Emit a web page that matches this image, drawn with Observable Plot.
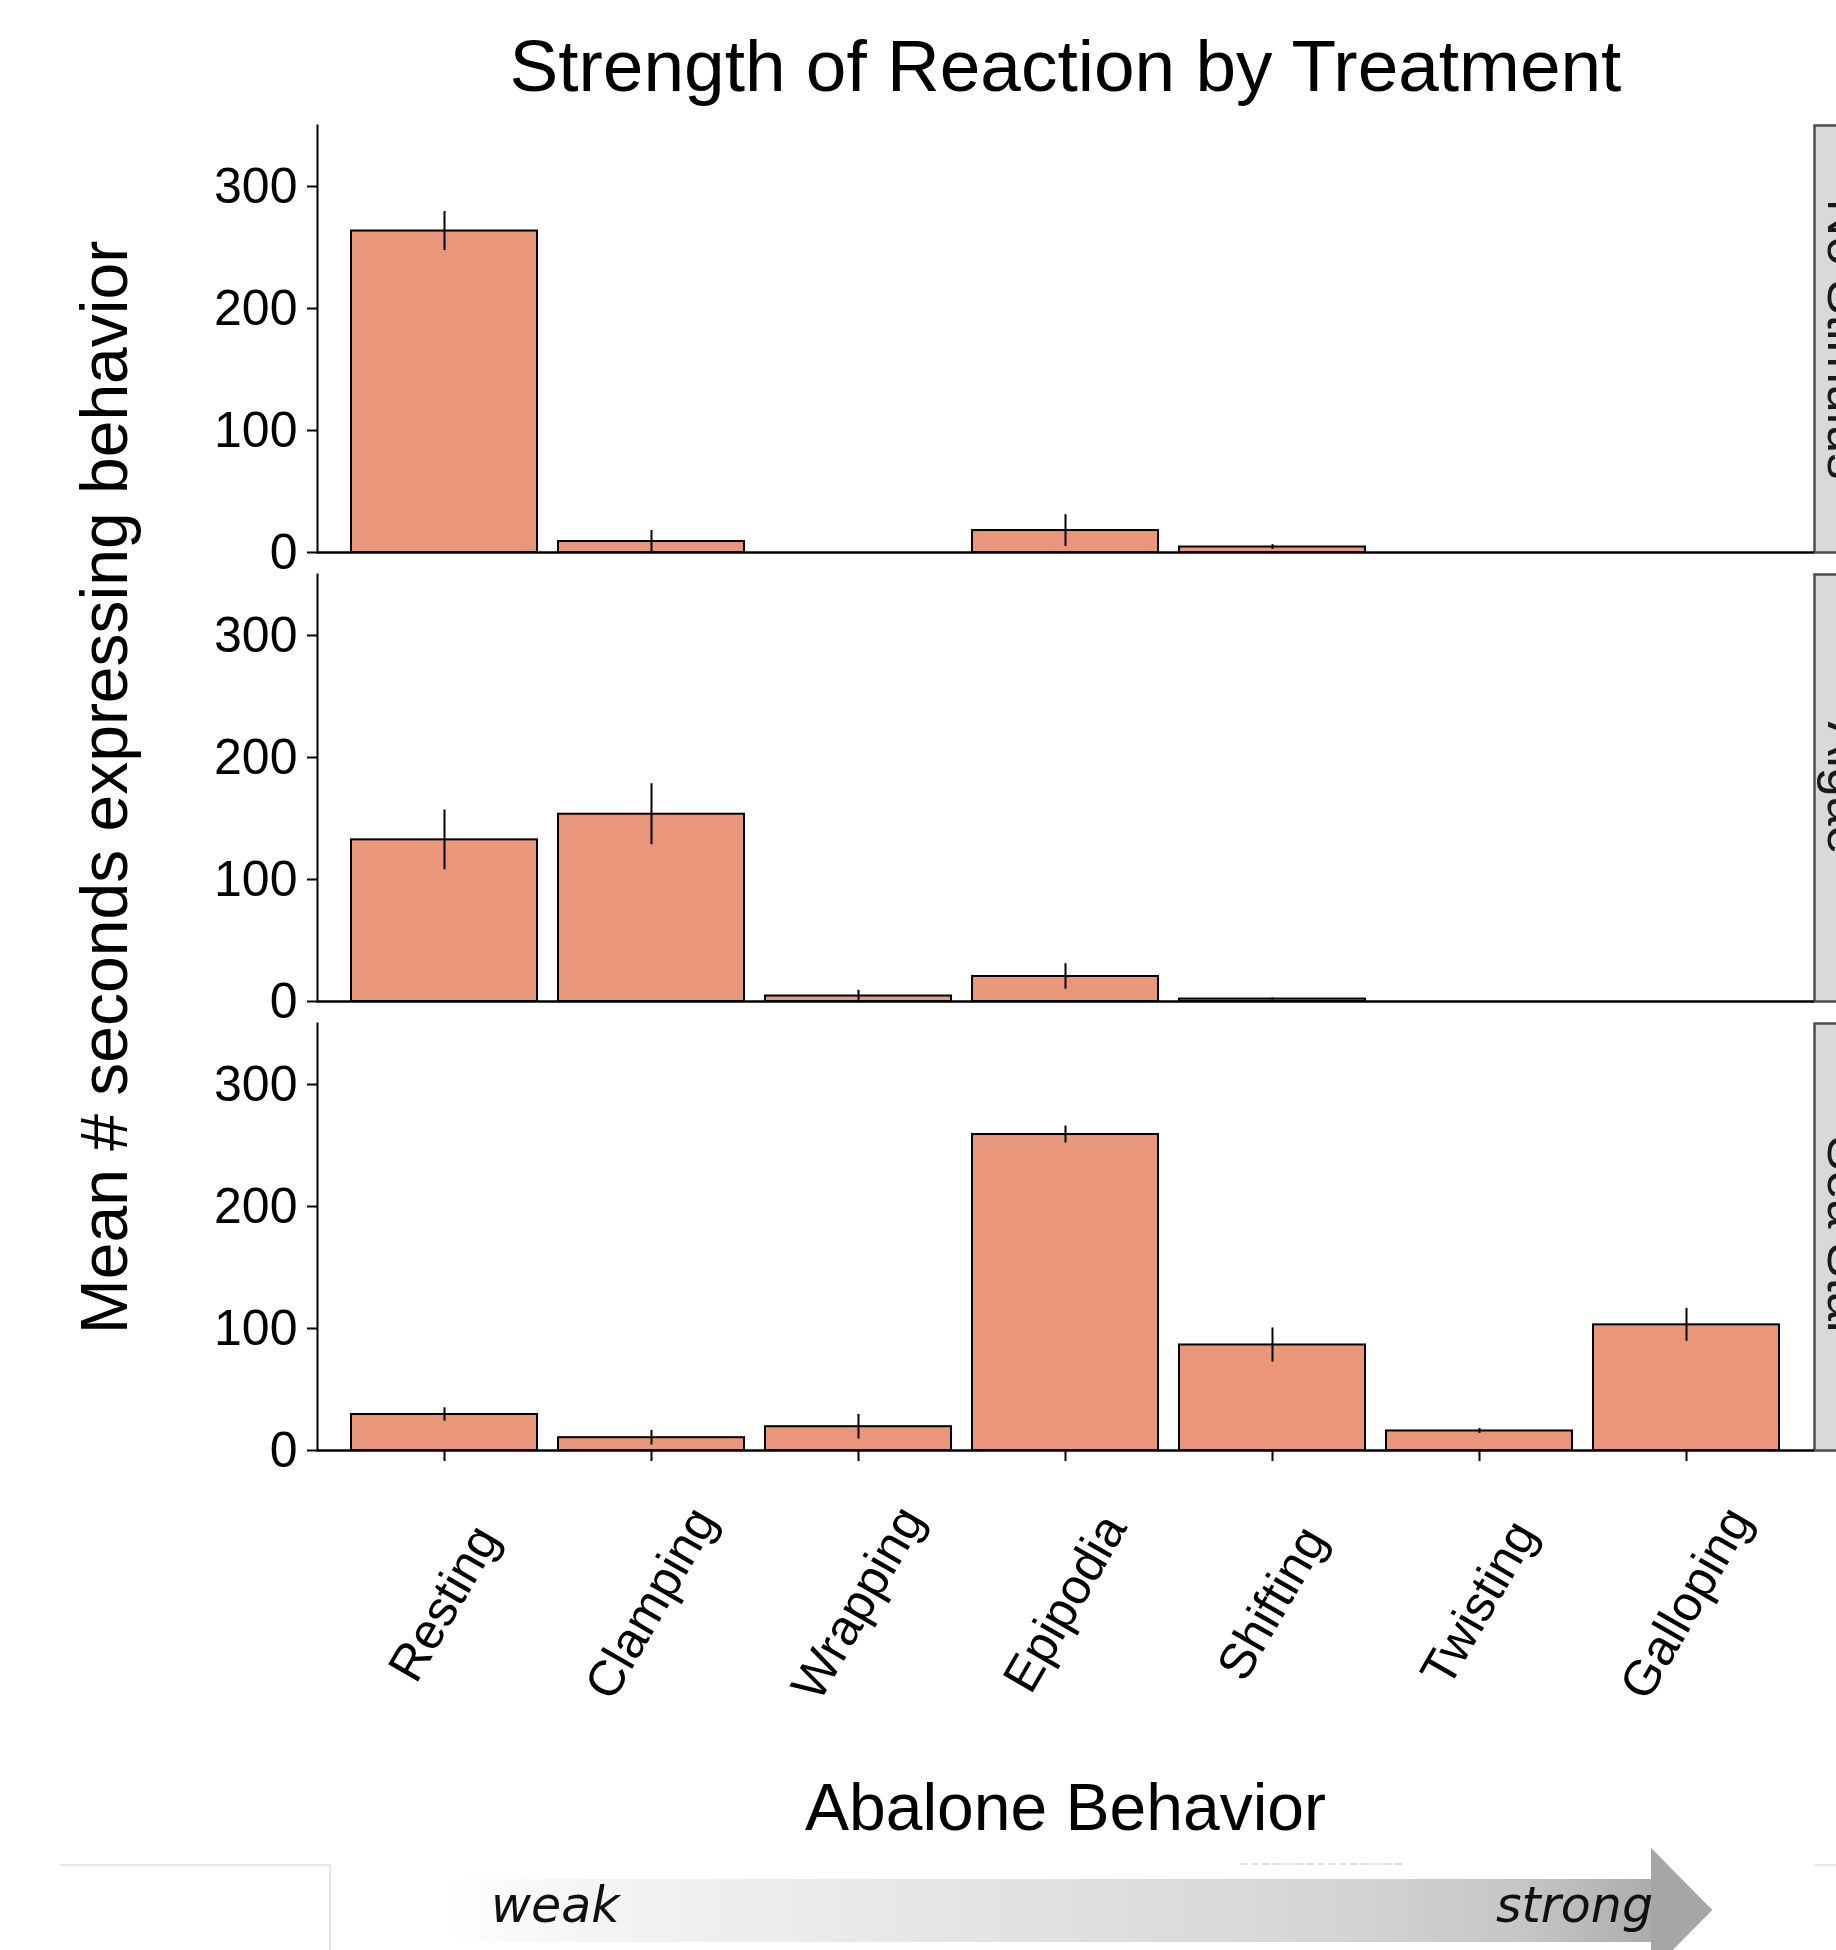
<!DOCTYPE html>
<html><head><meta charset="utf-8">
<script src="https://cdn.jsdelivr.net/npm/d3@7"></script>
<script src="https://cdn.jsdelivr.net/npm/@observablehq/plot@0.6"></script>
<style>html,body{margin:0;padding:0;background:#fff;overflow:hidden}</style>
</head><body><div id="chart"></div>
<script>
// ---- data ----
const behaviors = ["Resting","Clamping","Wrapping","Epipodia","Shifting","Twisting","Galloping"];
const treatments = ["No Stimulus","Algae","Sea Star"];
const meanT1 = [263.5, 9, 0, 18, 4.5, 0, 0];
const seT1   = [16, 9, 0, 13, 2, 0, 0];
const meanT2 = [132.5, 153.5, 4.5, 20.5, 2, 0, 0];
const seT2   = [24.5, 25, 4.7, 10.5, 1, 0, 0];
const meanT3 = [29.5, 10.5, 19.5, 259, 86.5, 16, 103];
const seT3   = [5.5, 6, 10, 7, 14, 2, 13.5];
const yTicks = [0, 100, 200, 300];
const titleText = "Strength of Reaction by Treatment";
const xTitle = "Abalone Behavior";
const yTitle = "Mean # seconds expressing behavior";
const arrowLabels = ["weak", "strong"];

const means = [meanT1, meanT2, meanT3];
const ses = [seT1, seT2, seT3];
const rows = [];
treatments.forEach((t, i) => behaviors.forEach((b, j) => rows.push({treatment: t, behavior: b, mean: means[i][j], se: ses[i][j]})));
const barRows = rows.filter(d => d.mean > 0);
const errRows = rows.filter(d => d.se > 0);

const W = 1836, H = 1950, mL = 317, mR = 22, mT = 125, mB = 500;
const FONT = "'Liberation Sans', Arial, Helvetica, sans-serif";

const chart = Plot.plot({
  width: W, height: H,
  marginLeft: mL, marginRight: mR, marginTop: mT, marginBottom: mB,
  style: {fontFamily: FONT, overflow: "hidden", background: "white", color: "black"},
  x: {domain: behaviors, paddingInner: 0.1, paddingOuter: 0.152, label: null},
  y: {domain: [0, 350], label: null},
  fy: {domain: treatments, paddingInner: 0.049, paddingOuter: 0, axis: null, label: null},
  marks: [
    // facet strips (cut off at the right edge, as in the reference)
    Plot.frame({fill: "#d9d9d9", stroke: "#4d4d4d", strokeWidth: 2.5, insetLeft: W - mL - mR, insetRight: -80}),
    Plot.text(treatments, {fy: d => d, text: d => d, frameAnchor: "right", textAnchor: "middle", lineAnchor: "middle", rotate: 90, dx: 30, fontSize: 52, fill: "#1a1a1a"}),
    Plot.barY(barRows, {x: "behavior", y: "mean", fy: "treatment", fill: "#E9967A", stroke: "black", strokeWidth: 2}),
    Plot.ruleX(errRows, {x: "behavior", y1: d => d.mean - d.se, y2: d => d.mean + d.se, fy: "treatment", stroke: "black", strokeWidth: 2}),
    Plot.ruleY([0], {stroke: "black", strokeWidth: 2.5}),
    Plot.frame({anchor: "left", stroke: "black", strokeWidth: 2}),
    Plot.axisY({ticks: yTicks, tickSize: 10, tickPadding: 10, fontSize: 50, strokeWidth: 2, label: null}),
    Plot.axisX({tickSize: 11, strokeWidth: 2, fill: "none", label: null}),
    Plot.axisX({tickSize: 0, tickPadding: 0, tickRotate: -60, textAnchor: "middle", lineAnchor: "middle", fontSize: 50, dx: 0, dy: 153, label: null})
  ]
});
document.getElementById("chart").appendChild(chart);

// ---- titles and the weak/strong arrow ----
const svg = d3.select(chart);
const cx = (mL + W - mR) / 2;
const cy = (mT + H - mB) / 2;
svg.append("text").attr("x", cx).attr("y", 91).attr("text-anchor", "middle")
  .attr("font-family", FONT).attr("font-size", 73).attr("fill", "black").text(titleText);
svg.append("text").attr("x", cx).attr("y", 1830).attr("text-anchor", "middle")
  .attr("font-family", FONT).attr("font-size", 66).attr("fill", "black").text(xTitle);
svg.append("text").attr("transform", `translate(127,${cy}) rotate(-90)`).attr("text-anchor", "middle")
  .attr("font-family", FONT).attr("font-size", 66).attr("fill", "black").text(yTitle);

// faint remnants of a pasted picture
const faint = svg.append("g").attr("stroke", "#e6e6e6").attr("stroke-width", 2).attr("fill", "none");
faint.append("path").attr("d", "M60,1865H330V1950");
faint.append("path").attr("d", "M1814,1865H1836");
faint.append("path").attr("d", "M1240,1864H1403").attr("stroke-dasharray", "8,3").attr("stroke", "#e0e0e0");

const defs = svg.append("defs");
const grad = defs.append("linearGradient").attr("id", "arrowGrad").attr("gradientUnits", "userSpaceOnUse")
  .attr("x1", 440).attr("x2", 1712).attr("y1", 0).attr("y2", 0);
[[0, "#ffffff"], [0.12, "#f4f4f4"], [0.45, "#e2e2e2"], [0.7, "#d5d5d5"], [0.85, "#c6c6c6"], [0.95, "#adadad"], [1, "#a4a4a4"]]
  .forEach(([o, c]) => grad.append("stop").attr("offset", o).attr("stop-color", c));
svg.append("path").attr("d", "M440,1879H1651V1848L1712,1910L1651,1972V1942H440Z").attr("fill", "url(#arrowGrad)");
svg.append("path").attr("d", "M1651,1848L1712,1910L1651,1972Z").attr("fill", "#a6a6a6");
svg.append("text").attr("x", 491).attr("y", 1922).attr("text-anchor", "start").attr("font-family", "'DejaVu Sans', Verdana, sans-serif")
  .attr("font-style", "italic").attr("font-size", 49).attr("fill", "#111").text(arrowLabels[0]);
svg.append("text").attr("x", 1653).attr("y", 1922).attr("text-anchor", "end").attr("font-family", "'DejaVu Sans', Verdana, sans-serif")
  .attr("font-style", "italic").attr("font-size", 49).attr("fill", "#111").text(arrowLabels[1]);
</script>
</body></html>
